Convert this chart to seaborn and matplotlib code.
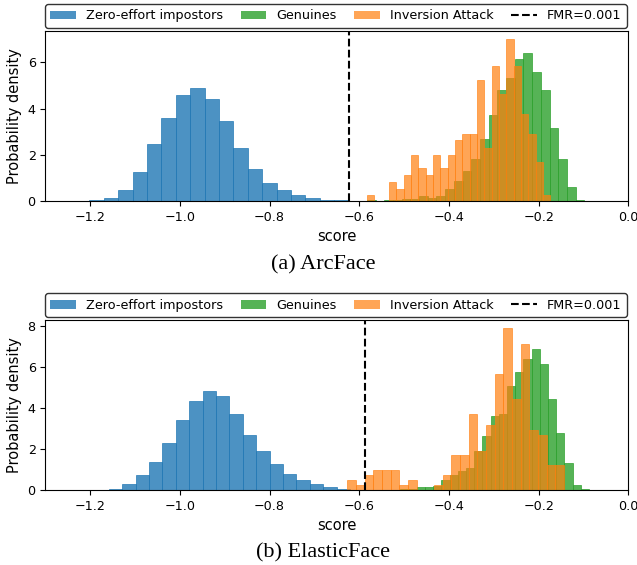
import numpy as np
import pandas as pd
import matplotlib
matplotlib.use("Agg")
import matplotlib.pyplot as plt
import seaborn as sns
from matplotlib.colors import to_rgba
from matplotlib.patches import Patch
from matplotlib.lines import Line2D

# -----------------------------
# Data (probability density per bin)
# -----------------------------

# (a) ArcFace
arc_imp_range = (-1.2020, -0.6236)
arc_imp = [0.03, 0.12, 0.46, 1.25, 2.46, 3.59, 4.59, 4.90, 4.42, 3.46,
           2.29, 1.38, 0.77, 0.46, 0.25, 0.12, 0.03, 0.03]

arc_gen_range = (-0.5831, -0.0981)
arc_gen = [0.03, 0.00, 0.03, 0.03, 0.10, 0.10, 0.20, 0.15, 0.23, 0.54,
           0.88, 1.28, 1.80, 2.67, 3.71, 4.80, 5.32, 6.14, 6.41, 5.58,
           4.80, 3.14, 1.84, 0.62, 0.06]

arc_inv_range = (-0.5828, -0.1741)
arc_inv = [0.28, 0.00, 0.00, 0.84, 0.54, 1.14, 2.01, 1.45, 1.14, 2.01,
           1.45, 2.01, 2.62, 2.88, 2.88, 5.23, 2.30, 5.84, 4.65, 7.01,
           5.84, 3.78, 2.88, 1.71, 0.28]

arc_fmr = -0.623

# (b) ElasticFace
ela_imp_range = (-1.2183, -0.6208)
ela_imp = [0.02, 0.02, 0.05, 0.28, 0.72, 1.38, 2.31, 3.43, 4.36, 4.85,
           4.60, 3.72, 2.70, 1.92, 1.28, 0.80, 0.50, 0.31, 0.16, 0.07]

ela_gen_range = (-0.5084, -0.0878)
ela_gen = [0.07, 0.07, 0.15, 0.15, 0.20, 0.49, 0.73, 0.93, 1.07, 1.92,
           2.63, 3.61, 3.71, 5.07, 5.76, 6.39, 6.88, 6.15, 4.44, 2.78,
           1.32, 0.24, 0.03]

ela_inv_range = (-0.6268, -0.1436)
ela_inv = [0.49, 0.24, 0.73, 0.98, 0.98, 0.98, 0.24, 0.49, 0.00, 0.00,
           0.24, 0.73, 1.71, 1.71, 3.71, 1.92, 3.19, 5.66, 7.90, 4.44,
           7.12, 2.93, 2.68, 1.22, 1.22]

ela_fmr = -0.587

labels = ["Zero-effort impostors", "Genuines", "Inversion Attack", "FMR=0.001"]
colors = ["tab:blue", "tab:green", "tab:orange"]
alphas = [0.8, 0.8, 0.7]

plt.rcParams["xtick.labelsize"] = 9.2
plt.rcParams["ytick.labelsize"] = 9.2
plt.rcParams["axes.labelsize"] = 10.5
plt.rcParams["legend.fontsize"] = 9.2


def draw_hist(ax, heights, rng, color, alpha):
    edges = np.linspace(rng[0], rng[1], len(heights) + 1)
    df = pd.DataFrame({"score": (edges[:-1] + edges[1:]) / 2,
                       "density": heights})
    sns.histplot(data=df, x="score", weights="density", bins=list(edges),
                 stat="count", color=color, alpha=alpha, ax=ax,
                 edgecolor=to_rgba(color, alpha), linewidth=0.6)


def draw_panel(ax, imp, imp_rng, gen, gen_rng, inv, inv_rng, fmr):
    draw_hist(ax, imp, imp_rng, colors[0], alphas[0])
    draw_hist(ax, gen, gen_rng, colors[1], alphas[1])
    draw_hist(ax, inv, inv_rng, colors[2], alphas[2])
    ax.axvline(fmr, color="black", linestyle="--", linewidth=1.5)
    ax.set_xlim(-1.3, 0.0)
    ax.set_xlabel("score")
    ax.set_ylabel("Probability density")

    handles = [Patch(facecolor=to_rgba(c, a)) for c, a in zip(colors, alphas)]
    handles.append(Line2D([0], [0], color="black", linestyle="--", linewidth=1.5))
    ax.legend(handles, labels, ncol=4, loc="lower left",
              bbox_to_anchor=(0.0, 1.02, 0.997, 0.1), mode="expand",
              borderaxespad=0, edgecolor="0.2", framealpha=1)


fig = plt.figure(figsize=(6.37, 5.65), dpi=100)
ax1 = fig.add_axes([0.0712, 0.6442, 0.9152, 0.3010])
ax2 = fig.add_axes([0.0712, 0.1327, 0.9152, 0.3009])

draw_panel(ax1, arc_imp, arc_imp_range, arc_gen, arc_gen_range,
           arc_inv, arc_inv_range, arc_fmr)
draw_panel(ax2, ela_imp, ela_imp_range, ela_gen, ela_gen_range,
           ela_inv, ela_inv_range, ela_fmr)

fig.text(0.507, 0.531, "(a) ArcFace", ha="center", va="center",
         family="Liberation Serif", fontsize=16)
fig.text(0.507, 0.0212, "(b) ElasticFace", ha="center", va="center",
         family="Liberation Serif", fontsize=16)

fig.savefig("out.png", dpi=100)
